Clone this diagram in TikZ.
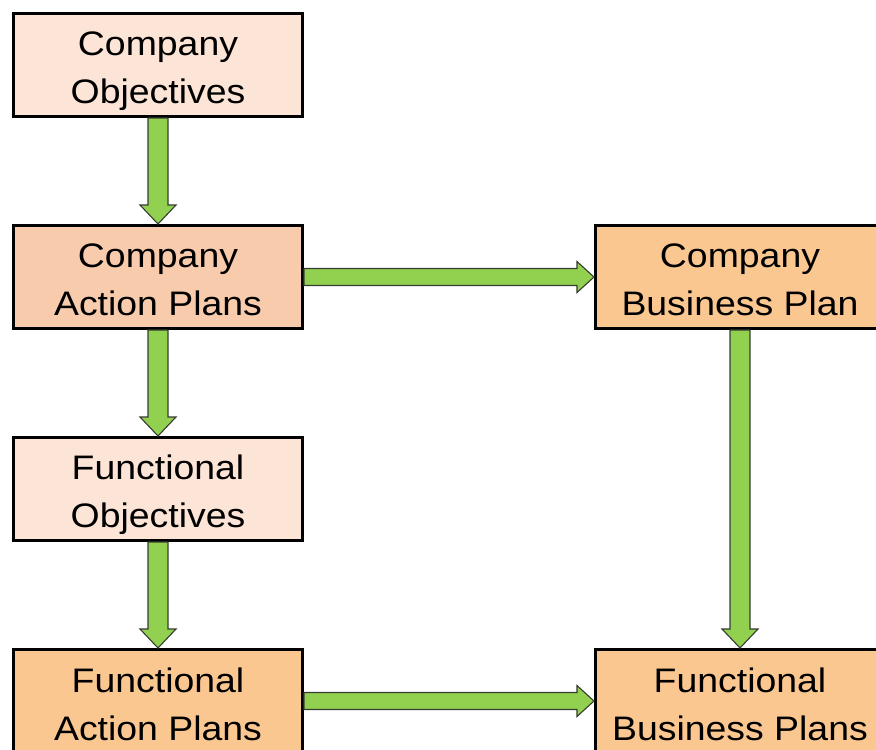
\documentclass[tikz,border=0pt]{standalone}
\usepackage{fontspec}
\setmainfont[FakeStretch=1.1]{Liberation Sans}
\usetikzlibrary{calc}

\definecolor{lightpeach}{RGB}{252,228,214}
\definecolor{peach}{RGB}{248,203,173}
\definecolor{apricot}{RGB}{250,199,145}
\definecolor{leaf}{RGB}{146,208,80}
\definecolor{leafedge}{RGB}{55,60,50}

\tikzset{
  x=1pt, y=1pt,
  stage/.style={draw=black, line width=3pt, minimum width=289pt, minimum height=103pt,
    inner sep=0pt},
  caption/.style={align=center, inner sep=0pt, yshift=-3pt,
    font=\fontsize{34}{48}\selectfont},
  % captions whose last line has a descender sit a little lower
  lowcaption/.style={caption, yshift=-3pt},
  flowarrow/.style={fill=leaf, draw=leafedge, line width=1.1pt, line join=miter},
}

% vertical block arrow from the bottom of #2 to the top of #3
\newcommand{\downflow}[3][]{%
  \draw[flowarrow,#1]
    ($(#2.south)+(-10,0)$) -- ($(#3.north)+(-10,19)$) -- ($(#3.north)+(-18,19)$) --
    (#3.north) -- ($(#3.north)+(18,19)$) -- ($(#3.north)+(10,19)$) --
    ($(#2.south)+(10,0)$) -- cycle;}
% horizontal block arrow from the right of #2 to the left of #3
\newcommand{\rightflow}[3][]{%
  \draw[flowarrow,#1]
    ($(#2.east)+(0,8.5)$) -- ($(#3.west)+(-17,8.5)$) -- ($(#3.west)+(-17,15.5)$) --
    (#3.west) -- ($(#3.west)+(-17,-15.5)$) -- ($(#3.west)+(-17,-8.5)$) --
    ($(#2.east)+(0,-8.5)$) -- cycle;}

\begin{document}
\begin{tikzpicture}
  \useasboundingbox (0,0) rectangle (876,-750);
  \clip (0,0) rectangle (876,-750);

  \node[stage, fill=lightpeach, label={[lowcaption]center:{Company\\Objectives}}]      (cobj) at (158,-65)  {};
  \node[stage, fill=peach,      label={[caption]center:{Company\\Action Plans}}]       (cap)  at (158,-277) {};
  \node[stage, fill=lightpeach, label={[lowcaption]center:{Functional\\Objectives}}]   (fobj) at (158,-489) {};
  \node[stage, fill=apricot,    label={[caption]center:{Functional\\Action Plans}}]    (fap)  at (158,-701) {};
  \node[stage, fill=apricot,    label={[caption]center:{Company\\Business Plan}}]      (cbp)  at (740,-277) {};
  \node[stage, fill=apricot,    label={[caption]center:{Functional\\Business Plans}}]  (fbp)  at (740,-701) {};

  \downflow{cobj}{cap}
  \downflow{cap}{fobj}
  \downflow{fobj}{fap}
  \downflow{cbp}{fbp}
  \rightflow{cap}{cbp}
  \rightflow{fap}{fbp}
\end{tikzpicture}
\end{document}
